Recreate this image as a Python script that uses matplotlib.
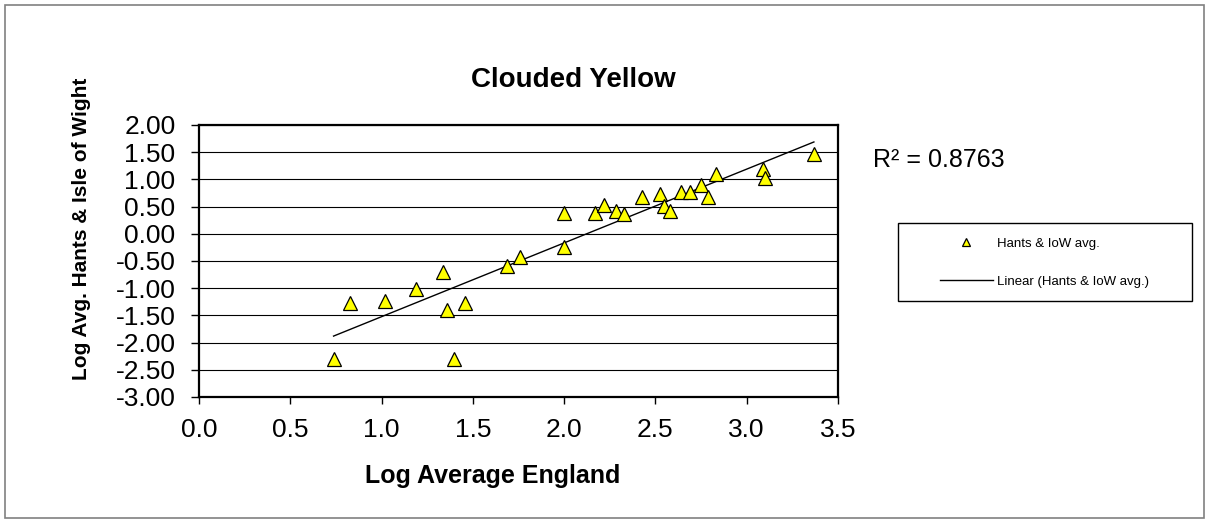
import numpy as np
import matplotlib
matplotlib.use("Agg")
import matplotlib.pyplot as plt
from matplotlib.patches import Rectangle

plt.rcParams["font.family"] = ["Liberation Sans", "DejaVu Sans"]
plt.rcParams["axes.unicode_minus"] = False

# values
log_england = [0.737, 0.826, 1.018, 1.186, 1.337, 1.356, 1.396, 1.458, 1.688, 1.757,
               1.998, 1.998, 2.167, 2.219, 2.286, 2.328, 2.428, 2.527, 2.547, 2.578,
               2.638, 2.691, 2.748, 2.788, 2.830, 3.089, 3.098, 3.368]
log_hants = [-2.31, -1.27, -1.23, -1.01, -0.71, -1.40, -2.31, -1.27, -0.59, -0.43,
             -0.25, 0.38, 0.39, 0.53, 0.41, 0.36, 0.67, 0.73, 0.51, 0.41,
             0.77, 0.77, 0.90, 0.67, 1.10, 1.19, 1.03, 1.46]
r_squared = "0.8763"
series_name = "Hants & IoW avg."
x_ticks = [0.0, 0.5, 1.0, 1.5, 2.0, 2.5, 3.0, 3.5]
y_ticks = [-3.0, -2.5, -2.0, -1.5, -1.0, -0.5, 0.0, 0.5, 1.0, 1.5, 2.0]

W, H = 1208, 522
fig = plt.figure(figsize=(W / 100, H / 100), dpi=100)


def fx(px):
    return px / W


def fy(py):
    return 1 - py / H


# outer chart border
fig.patches.append(Rectangle((fx(4.5), fy(517.5)), fx(1199), 1 - fy(513), transform=fig.transFigure,
                             fill=False, edgecolor="#808080", linewidth=1.2))

ax = fig.add_axes([fx(199), fy(397), fx(838 - 199), fy(125) - fy(397)])

# trendline from least squares
slope, intercept = np.polyfit(log_england, log_hants, 1)
xl = np.array([min(log_england), max(log_england)])
ax.plot(xl, slope * xl + intercept, color="black", linewidth=1.0, zorder=2,
        label="Linear (Hants & IoW avg.)")
ax.plot(log_england, log_hants, linestyle="none", marker="^", markersize=10,
        markerfacecolor="#ffff00", markeredgecolor="black", markeredgewidth=0.9,
        zorder=3, label=series_name)

ax.set_xlim(0, 3.5)
ax.set_ylim(-3, 2)
ax.set_xticks(x_ticks)
ax.set_yticks(y_ticks)
ax.set_xticklabels(["%.1f" % v for v in x_ticks])
ax.set_yticklabels(["%.2f" % v for v in y_ticks])
ax.tick_params(axis="both", direction="out", labelsize=19, width=1.0, color="black")
ax.tick_params(axis="y", length=6, pad=11)
ax.tick_params(axis="x", length=5, pad=10)
ax.yaxis.grid(True, color="black", linewidth=0.8)
ax.set_axisbelow(True)
for s in ax.spines.values():
    s.set_linewidth(1.6)
    s.set_color("black")

fig.text(fx(573), fy(87), "Clouded Yellow", fontsize=20, fontweight="bold",
         ha="center", va="baseline")
fig.text(fx(493), fy(483), "Log Average England", fontsize=18, fontweight="bold",
         ha="center", va="baseline")
fig.text(fx(82), fy(229), "Log Avg. Hants & Isle of Wight", fontsize=15, fontweight="bold",
         rotation=90, ha="center", va="center")
fig.text(fx(873), fy(160), "R² = " + r_squared, fontsize=18, ha="left", va="center")

# legend box drawn separately, entries placed inside
fig.patches.append(Rectangle((fx(898), fy(301)), fx(1192 - 898), fy(223) - fy(301),
                             transform=fig.transFigure, fill=False, edgecolor="black", linewidth=1.0))
handles, labels = ax.get_legend_handles_labels()
leg = fig.legend(handles[::-1], labels[::-1], loc="center left", bbox_to_anchor=(fx(940), fy(262.5)),
                 frameon=False, fontsize=9.5, markerscale=0.55, handlelength=4.0,
                 handletextpad=0.3, labelspacing=1.95, borderpad=0, borderaxespad=0, numpoints=1)

fig.savefig("out.png", dpi=100)
